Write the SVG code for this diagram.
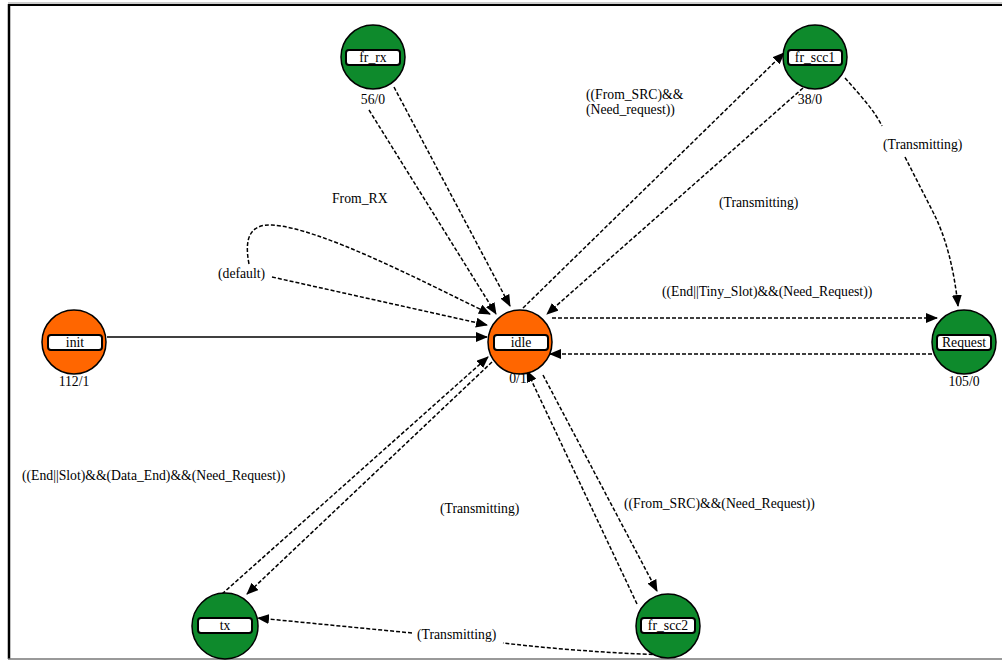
<svg xmlns="http://www.w3.org/2000/svg" width="1002" height="660" viewBox="0 0 1002 660">
<style>
.n circle{stroke:#000;stroke-width:1.5}
.g{fill:#0e8a2c}
.o{fill:#ff6600}
.lb{fill:#fff;stroke:#000;stroke-width:2}
text{font-family:"Liberation Serif","Times New Roman",serif;font-size:13.7px;fill:#000}
.c{text-anchor:middle}
.e path{fill:none;stroke:#000;stroke-width:1.5;stroke-dasharray:4 2}
.e path.s{stroke-dasharray:none}
</style>
<defs>
<marker id="a" viewBox="0 0 12 10" refX="11" refY="5" markerWidth="12" markerHeight="10" markerUnits="userSpaceOnUse" orient="auto">
<path d="M0,0 L12,5 L0,10 Z" fill="#000"/>
</marker>
</defs>
<rect x="0" y="0" width="1002" height="660" fill="#fff"/>
<g id="frame">
<line x1="8" y1="3" x2="1002" y2="3" stroke="#999" stroke-width="1"/>
<line x1="8" y1="5" x2="1002" y2="5" stroke="#000" stroke-width="2"/>
<line x1="9" y1="4" x2="9" y2="659" stroke="#000" stroke-width="2.5"/>
<line x1="8" y1="659" x2="1002" y2="659" stroke="#777" stroke-width="1.5"/>
</g>
<g id="edges" class="e">
<path class="s" d="M107,337 L487,337" marker-end="url(#a)"/>
<path d="M369,110 L496,314" marker-end="url(#a)"/>
<path d="M394,87 L510,306" marker-end="url(#a)"/>
<path d="M523,308 L784,53" marker-end="url(#a)"/>
<path d="M803,88 L547,314" marker-end="url(#a)"/>
<path d="M845,78 C860,95 874,110 882,126"/>
<path d="M905,157 L934,214 Q952,250 958,306" marker-end="url(#a)"/>
<path d="M552,318 L937,318" marker-end="url(#a)"/>
<path d="M932,354 L550,354" marker-end="url(#a)"/>
<path d="M543,375 L657,591" marker-end="url(#a)"/>
<path d="M637,604 L527,371" marker-end="url(#a)"/>
<path d="M665,655 Q580,652 503,643"/>
<path d="M412,633 L258,618" marker-end="url(#a)"/>
<path d="M492,362 L247,594" marker-end="url(#a)"/>
<path d="M222,594 L488,357" marker-end="url(#a)"/>
<path d="M249,264 C244,238 250,224 272,225 C320,228 420,280 490,314" marker-end="url(#a)"/>
<path d="M272,277 L487,325" marker-end="url(#a)"/>
</g>
<g id="labels">
<text x="332" y="203">From_RX</text>
<text x="586" y="99">((From_SRC)&amp;&amp;</text>
<text x="586" y="114">(Need_request))</text>
<text x="883" y="149">(Transmitting)</text>
<text x="719" y="207">(Transmitting)</text>
<text x="218" y="278">(default)</text>
<text x="662" y="296">((End||Tiny_Slot)&amp;&amp;(Need_Request))</text>
<text x="22" y="480">((End||Slot)&amp;&amp;(Data_End)&amp;&amp;(Need_Request))</text>
<text x="440" y="513">(Transmitting)</text>
<text x="624" y="508">((From_SRC)&amp;&amp;(Need_Request))</text>
<text x="417" y="639">(Transmitting)</text>
</g>
<g id="fr_rx" class="n">
<circle cx="373" cy="57" r="32" class="g"/>
<rect x="346" y="50" width="54" height="15" rx="3" class="lb"/>
<text x="373" y="62" class="c">fr_rx</text>
<text x="373" y="104" class="c">56/0</text>
</g>
<g id="fr_scc1" class="n">
<circle cx="815" cy="57" r="32" class="g"/>
<rect x="788" y="50" width="54" height="15" rx="3" class="lb"/>
<text x="815" y="62" class="c">fr_scc1</text>
<text x="810" y="104" class="c">38/0</text>
</g>
<g id="init" class="n">
<circle cx="74" cy="342" r="32" class="o"/>
<rect x="48" y="335" width="54" height="15" rx="3" class="lb"/>
<text x="75" y="347" class="c">init</text>
<text x="74" y="386" class="c">112/1</text>
</g>
<g id="idle" class="n">
<circle cx="520" cy="342" r="32" class="o"/>
<rect x="494" y="335" width="54" height="15" rx="3" class="lb"/>
<text x="521" y="347" class="c">idle</text>
<text x="518" y="383" class="c">0/1</text>
</g>
<g id="Request" class="n">
<circle cx="964" cy="342" r="32" class="g"/>
<rect x="937" y="335" width="54" height="15" rx="3" class="lb"/>
<text x="964" y="347" class="c">Request</text>
<text x="964" y="386" class="c">105/0</text>
</g>
<g id="tx" class="n">
<circle cx="225" cy="626" r="33" class="g"/>
<rect x="198" y="618" width="54" height="15" rx="3" class="lb"/>
<text x="225" y="630" class="c">tx</text>
</g>
<g id="fr_scc2" class="n">
<circle cx="668" cy="626" r="32" class="g"/>
<rect x="641" y="618" width="54" height="15" rx="3" class="lb"/>
<text x="668" y="630" class="c">fr_scc2</text>
</g>
</svg>
